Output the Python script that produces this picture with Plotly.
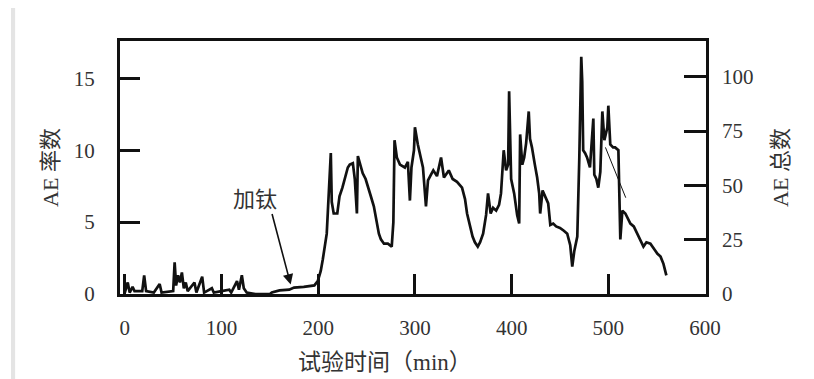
import plotly.graph_objects as go

# ---- data ----
time_min = [0, 3, 5, 8, 10, 18, 20, 22, 30, 36, 38, 50, 51.5, 53, 55, 57, 59, 61, 63, 65,
            72, 74, 80, 82, 90, 92, 100, 108, 110, 116, 118, 121, 123, 126, 135, 150,
            152, 160, 170, 175, 185, 196,
            199.5, 202.6, 204.7, 208.8, 210, 213, 214, 216, 219.7, 222, 225, 228.6, 230.6,
            232.6, 235.8, 237.8, 240, 241, 244, 246, 249, 252, 254.4, 257.5, 260.6, 262.7,
            264.8, 268, 272, 276, 277.7, 278.9, 281.3, 284.5, 289.6, 292.7, 294.8, 296.4,
            299, 300, 303, 306, 308.3, 311.4, 313.5, 316.6, 319, 322.8, 327, 330, 333, 335,
            339, 343.5, 348.7, 351.8, 353.9, 357, 359.6, 362, 365, 367.4, 370.5, 373.6,
            375.6, 378.3, 380.8, 384, 387, 389, 391.8, 394.3, 396.4, 397.4, 399.5, 402.6,
            405.7, 407.8, 408.8, 411, 413, 415, 417.7, 419, 421, 424, 426.4, 428.5, 429.5,
            432, 434.7, 437.8, 440, 443, 446, 450, 454, 457.5, 460.6, 462.7, 464.8, 467.9,
            470, 472, 473, 474, 476, 478, 481, 484.5, 485.5, 487.6, 489.6, 491.7, 493.8,
            495.9, 499, 500, 502, 504.9, 507, 510.4, 512.4, 514.5, 517.6, 522.8, 526.3,
            530, 533, 536.3, 539.4, 543.5, 547.7, 550.8, 554, 557, 560]
ae_rate = [0.1, 0.8, 0.1, 0.5, 0.2, 0.2, 1.3, 0.2, 0.1, 0.7, 0.1, 0.2, 2.2, 0.6, 1.3, 0.8, 1.5, 0.4, 0.8, 0.2,
           0.8, 0.1, 1.2, 0.1, 0.4, 0.1, 0.2, 0.3, 0.1, 0.9, 0.3, 1.3, 0.4, 0.1, 0.0, 0.0,
           0.1, 0.25, 0.3, 0.45, 0.5, 0.6,
           0.9, 1.6, 2.4, 4.2, 5.8, 9.8, 6.4, 5.6, 5.6, 6.8, 7.4, 8.4, 8.8,
           9.0, 9.1, 8.0, 5.6, 9.6, 8.8, 8.4, 8.0, 7.4, 6.8, 6.1, 5.0, 4.2,
           3.8, 3.5, 3.5, 3.3, 5.0, 10.7, 9.5, 9.0, 8.8, 9.2, 6.5, 8.8,
           10.0, 11.6, 10.4, 9.5, 8.8, 6.1, 7.9, 8.3, 8.6, 8.2, 9.5, 8.1, 8.4, 8.6,
           8.0, 7.8, 7.4, 6.6, 5.6, 4.8, 4.0, 3.6, 3.3, 3.6, 4.2, 5.5,
           7.0, 5.6, 6.0, 5.8, 6.2, 7.0, 10.0, 8.6, 9.0, 14.1, 8.0, 7.0,
           5.5, 4.9, 11.1, 9.0, 9.5, 10.5, 12.7, 10.8, 10.2, 9.0, 8.1, 7.0, 5.6,
           7.2, 6.8, 6.3, 4.8, 4.9, 4.7, 4.6, 4.4, 4.2, 3.4, 1.9, 3.0, 4.0,
           9.5, 16.5, 14.8, 10.0, 9.8, 9.5, 8.8, 12.2, 8.3, 8.0, 7.4, 8.5, 12.7,
           10.7, 11.6, 13.1, 10.4, 10.2, 10.2, 10.0, 3.8, 5.8, 5.6, 4.9, 4.7,
           4.2, 3.8, 3.3, 3.6, 3.5, 3.1, 2.8, 2.6, 2.1, 1.3]

# thin connecting segment visible near 500-520 min
link_time = [497, 518]
link_rate = [10.2, 6.7]

x_ticks = [0, 100, 200, 300, 400, 500, 600]
y_ticks = [0, 5, 10, 15]
y2_ticks = [0, 25, 50, 75, 100]

x_title = "试验时间（min）"
y_title = "AE 率数"
y2_title = "AE 总数"
note_text = "加钛"
note_time, note_rate = 171.5, 0.66

FONT = "Liberation Serif, 'Noto Sans CJK SC', serif"
INK = "#111111"
TXT = "#333333"

fig = go.Figure()
fig.add_trace(go.Scatter(x=time_min, y=ae_rate, mode="lines",
                         line=dict(color=INK, width=2.7), showlegend=False, hoverinfo="skip"))
fig.add_trace(go.Scatter(x=link_time, y=link_rate, mode="lines",
                         line=dict(color=INK, width=1), showlegend=False, hoverinfo="skip"))
fig.add_trace(go.Scatter(x=[None], y=[None], yaxis="y2", mode="lines",
                         showlegend=False, hoverinfo="skip"))

fig.update_layout(
    width=806, height=371,
    margin=dict(l=112, r=108, t=33, b=85),
    paper_bgcolor="white", plot_bgcolor="white",
    font=dict(family=FONT, size=21, color=TXT),
    xaxis=dict(range=[-5, 601], tickvals=x_ticks, ticks="inside", ticklen=20, tickwidth=3,
               tickcolor=INK, showline=True, linewidth=3, linecolor=INK, mirror=True,
               showgrid=False, zeroline=False, ticklabelstandoff=13,
               tickfont=dict(family=FONT, size=21, color=TXT)),
    yaxis=dict(range=[0, 17.6], tickvals=y_ticks, ticks="inside", ticklen=20, tickwidth=3,
               tickcolor=INK, showline=True, linewidth=3, linecolor=INK, mirror=True,
               showgrid=False, zeroline=False, ticklabelstandoff=18,
               tickfont=dict(family=FONT, size=21, color=TXT),
               title=dict(text=y_title, standoff=10, font=dict(family=FONT, size=22, color=TXT))),
    yaxis2=dict(range=[0, 116.5], tickvals=y2_ticks, overlaying="y", side="right", anchor="x",
                ticks="inside", ticklen=22, tickwidth=3, tickcolor=INK, showline=False,
                showgrid=False, zeroline=False, ticklabelstandoff=15,
                tickfont=dict(family=FONT, size=21, color=TXT),
                title=dict(text=y2_title, standoff=20, font=dict(family=FONT, size=22, color=TXT))),
    shapes=[dict(type="rect", xref="paper", yref="paper", x0=-0.186, x1=-0.179, y0=-0.35, y1=1.16,
                 fillcolor="#e4e4e4", line=dict(width=0), layer="below")],
    annotations=[
        dict(x=note_time, y=note_rate, xref="x", yref="y", text="", showarrow=True,
             ax=-19, ay=-72, arrowhead=2, arrowsize=1.3, arrowwidth=1.6, arrowcolor=INK),
        dict(x=135, y=6.6, xref="x", yref="y", text=note_text, showarrow=False,
             font=dict(family=FONT, size=22, color=TXT)),
        dict(x=0.452, y=-0.272, xref="paper", yref="paper", text=x_title, showarrow=False,
             xanchor="center", yanchor="middle", font=dict(family=FONT, size=23, color=TXT)),
    ],
)

fig.write_html("out.html")
